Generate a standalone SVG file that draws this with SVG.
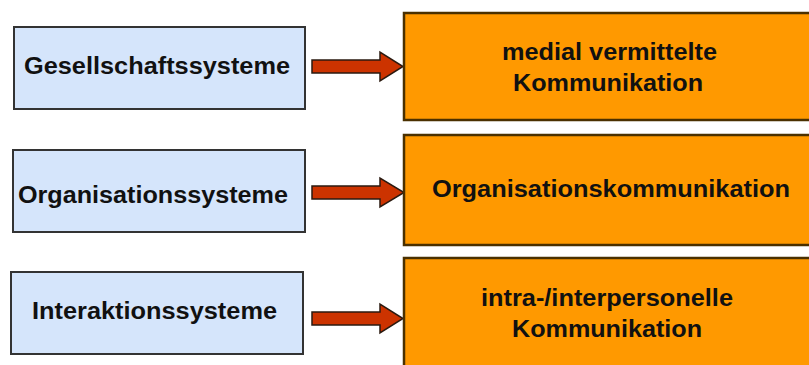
<svg xmlns="http://www.w3.org/2000/svg" width="809" height="365" viewBox="0 0 809 365">
<style>
.sys{fill:#d5e5fb;stroke:#333;stroke-width:2}
.kom{fill:#ff9900;stroke:#4a3000;stroke-width:2.5}
.arr{fill:#cc3300;stroke:#2a1a10;stroke-width:1.5;stroke-linejoin:miter}
text{font-family:"Liberation Sans",Arial,sans-serif;font-weight:bold;font-size:23px;fill:#111}
</style>
<rect width="809" height="365" fill="#fff"/>
<g id="connectors">
<polygon class="arr" points="312,60 380,60 380,52 403,66.5 380,81 380,73 312,73"/>
<polygon class="arr" points="312,186 380,186 380,178 404,192.5 380,207 380,199 312,199"/>
<polygon class="arr" points="312,312 380,312 380,304 403,318.5 380,333 380,325 312,325"/>
</g>
<g id="gesellschaftssysteme"><rect class="sys" x="14" y="27" width="291" height="82"/><text x="24" y="74" textLength="266" lengthAdjust="spacingAndGlyphs">Gesellschaftssysteme</text></g>
<g id="organisationssysteme"><rect class="sys" x="13" y="150" width="292" height="82"/><text x="18" y="203" textLength="270" lengthAdjust="spacingAndGlyphs">Organisationssysteme</text></g>
<g id="interaktionssysteme"><rect class="sys" x="11" y="272" width="292" height="82"/><text x="32" y="319" textLength="245" lengthAdjust="spacingAndGlyphs">Interaktionssysteme</text></g>
<g id="medial"><rect class="kom" x="404" y="13" width="420" height="107"/><text x="502" y="60" textLength="215" lengthAdjust="spacingAndGlyphs">medial vermittelte</text><text x="513" y="91" textLength="190" lengthAdjust="spacingAndGlyphs">Kommunikation</text></g>
<g id="organisationskommunikation"><rect class="kom" x="404" y="135" width="420" height="110"/><text x="432" y="197" textLength="358" lengthAdjust="spacingAndGlyphs">Organisationskommunikation</text></g>
<g id="interpersonell"><rect class="kom" x="404" y="258" width="420" height="120"/><text x="481" y="306" textLength="252" lengthAdjust="spacingAndGlyphs">intra-/interpersonelle</text><text x="512" y="337" textLength="190" lengthAdjust="spacingAndGlyphs">Kommunikation</text></g>
</svg>
